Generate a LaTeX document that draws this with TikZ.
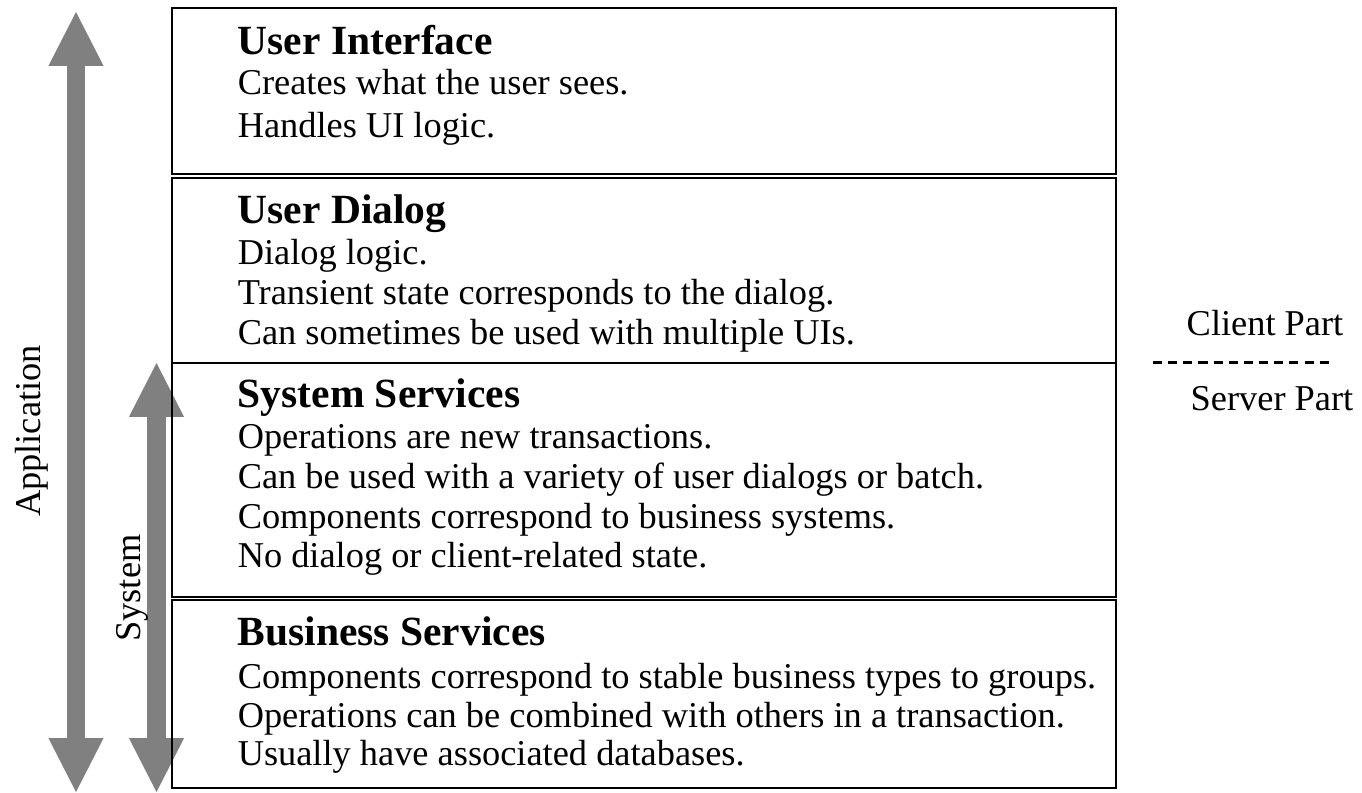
\documentclass[tikz,border=0pt]{standalone}
\usepackage{fontspec}
\setmainfont{Liberation Serif}
\usetikzlibrary{arrows.meta, positioning}
\tikzset{
  layer/.style={rectangle, draw=black, line width=0.75pt, minimum width=311.5pt, inner sep=0pt, outer sep=0pt},
  ttl/.style={font=\fontsize{13.7}{16}\selectfont\bfseries, inner sep=0pt},
  txt/.style={font=\fontsize{12}{14}\selectfont, inner sep=0pt},
  bigarrow/.style={draw=gray, line width=6pt,
                   {Triangle[width=18.2pt, length=17.8pt, line width=0pt]}-{Triangle[width=18.2pt, length=17.8pt, line width=0pt]}},
  cut/.style={draw=black, line width=1pt, dash pattern=on 3pt off 2pt},
}

\begin{document}
\begin{tikzpicture}[x=0.33pt, y=-0.33pt]
\useasboundingbox (0,0) rectangle (1362,792);
% scope arrows
\coordinate (appTop) at (76,12);
\coordinate (appBot) at (76,792);
\coordinate (sysTop) at (156.5,363);
\coordinate (sysBot) at (156.5,792);
\draw[bigarrow] (appTop) -- (appBot);
\draw[bigarrow] (sysTop) -- (sysBot);
\node[txt, rotate=90, anchor=base] (app) at (40,431) {Application};
\node[txt, rotate=90, anchor=base] (sysl) at (140,588) {System};
% layers
\node[layer, minimum height=54.8pt, anchor=north west] (ui) at (172,8) {};
\node[layer, minimum height=61pt, below=1.3pt of ui] (dlg) {};
\node[layer, minimum height=77.2pt, below=0pt of dlg] (sys) {};
\node[layer, minimum height=62pt, below=1pt of sys] (biz) {};
% user interface
\node[ttl, below right=15.3pt and 21.5pt of ui.north west, anchor=base west] (uiT) {User Interface};
\node[txt, below=13.3pt of uiT.base west, anchor=base west] (ui1) {Creates what the user sees.};
\node[txt, below=14pt of ui1.base west, anchor=base west] (ui2) {Handles UI logic.};
% user dialog
\node[ttl, below right=15pt and 21.5pt of dlg.north west, anchor=base west] (dlgT) {User Dialog};
\node[txt, below=13.4pt of dlgT.base west, anchor=base west] (dlg1) {Dialog logic.};
\node[txt, below=13.5pt of dlg1.base west, anchor=base west] (dlg2) {Transient state corresponds to the dialog.};
\node[txt, below=13.2pt of dlg2.base west, anchor=base west] (dlg3) {Can sometimes be used with multiple UIs.};
% system services
\node[ttl, below right=14.8pt and 21.5pt of sys.north west, anchor=base west] (sysT) {System Services};
\node[txt, below=13.4pt of sysT.base west, anchor=base west] (sys1) {Operations are new transactions.};
\node[txt, below=13.2pt of sys1.base west, anchor=base west] (sys2) {Can be used with a variety of user dialogs or batch.};
\node[txt, below=13.2pt of sys2.base west, anchor=base west] (sys3) {Components correspond to business systems.};
\node[txt, below=12.9pt of sys3.base west, anchor=base west] (sys4) {No dialog or client-related state.};
% business services
\node[ttl, below right=15pt and 21.5pt of biz.north west, anchor=base west] (bizT) {Business Services};
\node[txt, below=14.4pt of bizT.base west, anchor=base west] (biz1) {Components correspond to stable business types to groups.};
\node[txt, below=12.8pt of biz1.base west, anchor=base west] (biz2) {Operations can be combined with others in a transaction.};
\node[txt, below=12.5pt of biz2.base west, anchor=base west] (biz3) {Usually have associated databases.};
% client / server cut
\node[txt, anchor=base] (client) at (1265,335) {Client Part};
\coordinate (cutL) at (1153,362);
\coordinate (cutR) at (1330,362);
\draw[cut] (cutL) -- (cutR);
\node[txt, anchor=base] (server) at (1272,410) {Server Part};
\end{tikzpicture}
\end{document}
